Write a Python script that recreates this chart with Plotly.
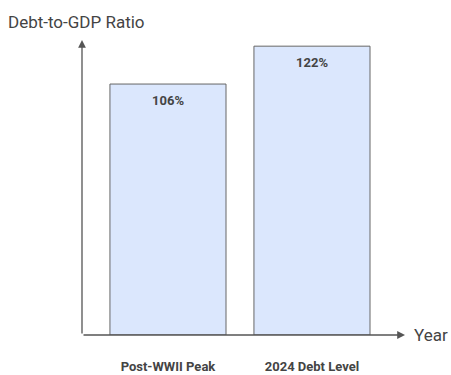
import plotly.graph_objects as go

categories = ["Post-WWII Peak", "2024 Debt Level"]
ratios = [106, 122]
labels = [f"{v}%" for v in ratios]

axis_color = "#555555"
text_color = "#444444"

fig = go.Figure()
fig.add_trace(go.Bar(
    x=[0, 1],
    y=ratios,
    width=0.806,
    marker=dict(color="#dbe7fd", line=dict(color="#666666", width=1)),
    hoverinfo="skip",
))

# value labels sit just inside the top of each bar
for i, (v, t) in enumerate(zip(ratios, labels)):
    fig.add_annotation(
        x=i, y=v, xref="x", yref="y", text=f"<b>{t}</b>",
        showarrow=False, yshift=-16,
        font=dict(family="Roboto", size=13, color=text_color),
    )

# axis arrows
fig.add_annotation(
    x=0, y=1, xref="paper", yref="paper", ax=0, ay=295,
    axref="pixel", ayref="pixel", text="", showarrow=True,
    arrowhead=2, arrowsize=1.2, arrowwidth=1.3, arrowcolor=axis_color,
)
fig.add_annotation(
    x=1, y=0, xref="paper", yref="paper", ax=-323, ay=0,
    axref="pixel", ayref="pixel", text="", showarrow=True,
    arrowhead=2, arrowsize=1.2, arrowwidth=1.3, arrowcolor=axis_color,
)
fig.add_annotation(
    x=1, y=0, xref="paper", yref="paper", text="Year",
    showarrow=False, xanchor="left", yanchor="middle", xshift=7,
    font=dict(family="Roboto", size=17, color=text_color),
)

fig.update_layout(
    width=451, height=375,
    margin=dict(l=82, r=46, t=40, b=40, autoexpand=False),
    paper_bgcolor="white", plot_bgcolor="white",
    showlegend=False,
    title=dict(
        text="Debt-to-GDP Ratio", x=8 / 451, xanchor="left",
        y=1 - 22 / 375, yanchor="middle",
        font=dict(family="Roboto", size=17, color=text_color),
    ),
    xaxis=dict(
        range=[-0.597, 1.646], tickvals=[0, 1],
        ticktext=[f"<b>{c}</b>" for c in categories],
        showgrid=False, zeroline=False, showline=False, ticks="",
        ticklabelstandoff=22, automargin=False,
        tickfont=dict(family="Roboto", size=13, color=text_color),
        fixedrange=True,
    ),
    yaxis=dict(
        range=[0, 124.6], showgrid=False, zeroline=False, showline=False,
        showticklabels=False, ticks="", automargin=False, fixedrange=True,
    ),
)

fig.write_html("out.html")
